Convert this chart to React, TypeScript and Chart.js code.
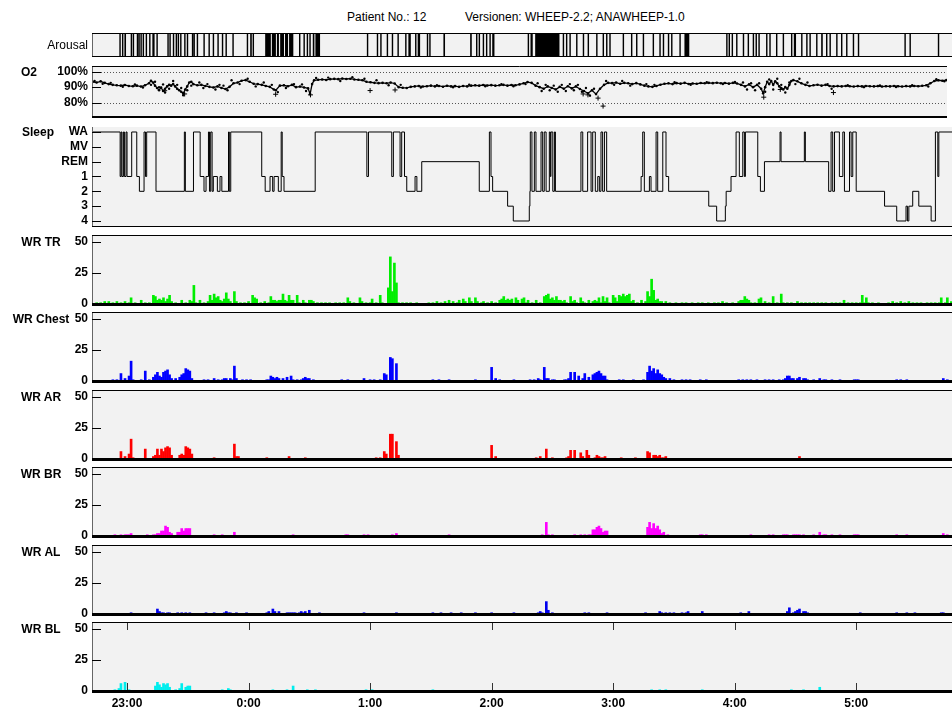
import React, { useEffect, useRef } from "react";
import { Chart, registerables } from "chart.js";

Chart.register(...registerables);

const FONT = "'Liberation Sans', Arial, Helvetica, sans-serif";
Chart.defaults.font.family = FONT;

// ---------- axis data (time = minutes after 22:00) ----------
const timeMin = 42.7;
const timeMax = 467.3;
const hourTicks = [60, 120, 180, 240, 300, 360, 420];
const hourLabels = ["23:00", "0:00", "1:00", "2:00", "3:00", "4:00", "5:00"];

const o2Ticks = [80, 90, 100];
const o2TickLabels = ["80%", "90%", "100%"];
const o2Dotted = [80, 100];
const sleepTicks = [0, 1, 2, 3, 4, 5, 6];
const sleepTickLabels = ["4", "3", "2", "1", "REM", "MV", "WA"];
const wrTicks = [0, 25, 50];
const wrTickLabels = ["0", "25", "50"];

// ---------- series ----------
const arousalEvents: [number, number][] = [
  [56.2, 56.9], [57.5, 58.2], [58.7, 59.5], [61.8, 62.5], [62.8, 63.5], [64.8, 65.5], [65.6, 66.3], [66.6, 67.3],
  [67.7, 68.4], [69.2, 69.9], [70.9, 71.6], [72.5, 73.6], [74.5, 75.2], [79.9, 80.6], [80.9, 81.6], [82.6, 83.3],
  [84.0, 84.7], [85.0, 85.7], [86.2, 86.9], [88.2, 88.9], [89.5, 90.2], [92.0, 92.7], [92.8, 93.5], [94.4, 95.1],
  [97.7, 98.4], [100.2, 100.9], [102.3, 103.0], [104.6, 105.3], [106.8, 107.5], [108.6, 109.3], [112.0, 112.7],
  [119.1, 119.8], [120.8, 121.6], [122.0, 122.7], [128.2, 131.0], [131.5, 133.5], [134.0, 135.0], [135.6, 137.5],
  [138.0, 139.5], [140.0, 142.1], [144.9, 145.6], [147.1, 147.8], [148.7, 149.4], [150.0, 150.7], [151.7, 152.5],
  [153.0, 155.3], [178.4, 179.1], [183.3, 184.0], [185.0, 185.7], [188.2, 188.9], [190.7, 191.4], [193.5, 194.2],
  [197.3, 198.0], [198.9, 200.1], [202.2, 202.9], [203.5, 204.7], [208.0, 208.7], [209.2, 209.9], [216.2, 217.0],
  [229.4, 230.2], [232.3, 233.0], [233.6, 234.3], [235.6, 236.3], [237.2, 237.9], [238.9, 239.6], [240.3, 241.4],
  [257.8, 258.5], [259.2, 260.3], [261.5, 273.5], [275.1, 275.8], [276.7, 277.4], [278.4, 279.1], [281.7, 282.4],
  [285.0, 285.7], [287.4, 288.1], [291.6, 292.3], [294.8, 295.5], [296.5, 297.2], [298.1, 298.8], [304.7, 305.4],
  [308.8, 309.5], [311.3, 312.0], [314.6, 315.3], [319.5, 320.2], [322.8, 323.5], [324.5, 325.2], [327.0, 327.7],
  [328.6, 329.3], [332.7, 333.4], [335.2, 337.6], [355.8, 356.5], [357.0, 357.7], [358.5, 359.2], [360.7, 361.4],
  [364.0, 364.7], [366.4, 367.1], [368.9, 369.6], [370.3, 371.0], [371.7, 372.4], [375.5, 376.2], [377.1, 377.8],
  [380.4, 381.1], [383.7, 384.4], [387.8, 388.5], [389.2, 390.3], [392.8, 393.5], [395.3, 396.0], [396.9, 397.6],
  [400.2, 400.9], [402.7, 403.5], [405.1, 405.8], [406.8, 407.5], [410.1, 410.8], [412.5, 413.2], [415.0, 415.7],
  [418.3, 419.0], [420.8, 421.5], [443.8, 444.5], [446.3, 447.0], [460.3, 461.0],
];

const o2Trace: [number, number][] = [
  [43, 93.5], [45, 93], [47, 93.8], [49, 92.8], [51, 92], [53, 91.5], [55, 91.2], [57, 91], [59, 91.4], [61, 90.8],
  [63, 90.6], [65, 91], [67, 90.4], [69, 91.2], [71, 92.5], [72, 94.2], [73, 93], [74, 91], [75, 89.5], [76, 88],
  [77, 89.8], [78, 87.5], [79, 89], [80, 90.5], [81, 91.5], [82, 91], [83, 92], [84, 90.5], [85, 89], [86, 88],
  [87, 87], [88, 86], [89, 88.5], [90, 90.5], [91, 93], [92, 93.5], [93, 92], [95, 91.2], [97, 91.5], [99, 90.8],
  [101, 90.2], [103, 89.8], [105, 90.5], [107, 89.5], [109, 88.8], [111, 90.2], [113, 92.5], [115, 93], [117, 94.2],
  [119, 94.6], [121, 93.5], [123, 92.2], [125, 92], [127, 91.5], [129, 90.8], [131, 90.2], [133, 88.5], [134, 88],
  [136, 91], [138, 91.2], [140, 90.6], [142, 91.5], [144, 90], [146, 90.4], [148, 89.8], [150, 89.2], [151, 85.5],
  [152, 92], [153, 94.5], [155, 94.8], [157, 95], [159, 94.7], [161, 95.2], [163, 95.4], [165, 95.2], [167, 95.6],
  [169, 95.3], [171, 95.5], [173, 95], [175, 94.8], [177, 94.5], [179, 93.5], [181, 93.2], [183, 92.8], [185, 92.6],
  [187, 92.8], [189, 92.5], [191, 93], [193, 92.4], [195, 90], [197, 89.6], [199, 89.5], [201, 90.2], [203, 90.5],
  [205, 90.8], [207, 90.4], [209, 90.6], [211, 91], [213, 90.5], [215, 90.8], [217, 90.3], [219, 90.9], [221, 90.5],
  [223, 90.7], [225, 90.2], [227, 90.8], [229, 90.5], [231, 91], [233, 91.2], [235, 91], [237, 91.4], [239, 91.1],
  [241, 91.3], [243, 91], [245, 91.2], [247, 91.5], [249, 91], [251, 91.4], [253, 91.2], [255, 91.8], [257, 92.5],
  [259, 93.3], [261, 92.8], [263, 91], [265, 90], [267, 89], [269, 90.5], [271, 89.5], [273, 88.5], [275, 90.2],
  [277, 89], [279, 90.6], [281, 89.2], [283, 90.5], [285, 88.8], [287, 87.5], [289, 86], [291, 88], [293, 85.5],
  [295, 89], [297, 91.5], [299, 92.8], [301, 92.6], [303, 93], [305, 92.2], [307, 92.8], [309, 92.5], [311, 92],
  [313, 92.6], [315, 91.8], [317, 91], [319, 90.5], [321, 90.2], [323, 90.8], [325, 91.6], [327, 92.2], [329, 92.5],
  [331, 92], [333, 92.6], [335, 92.3], [337, 92.8], [339, 92.1], [341, 92.4], [343, 92.2], [345, 92.7], [347, 92.5],
  [349, 92.8], [351, 92.6], [353, 92.9], [355, 92.5], [357, 92.7], [359, 92.3], [361, 92.8], [363, 92.4], [365, 91.5],
  [367, 90.5], [369, 91.8], [371, 90], [373, 91.5], [375, 89], [376, 86], [377, 90], [378, 93.5], [379, 92], [380, 94],
  [381, 91.5], [382, 93.8], [383, 92.5], [384, 90.5], [385, 89.5], [386, 88.5], [387, 90], [388, 89], [389, 91.5],
  [390, 94], [391, 94.6], [393, 93.8], [395, 92.5], [397, 91.5], [399, 90.8], [401, 91.2], [403, 91.6], [405, 91],
  [407, 91.5], [409, 90.8], [411, 90.5], [413, 90.7], [415, 90.5], [417, 90.8], [419, 90.6], [421, 90.4], [423, 90.7],
  [425, 90.5], [427, 90.8], [429, 90.6], [431, 90.5], [433, 90.7], [435, 90.4], [437, 90.6], [439, 90.5], [441, 90.8],
  [443, 90.6], [445, 90.4], [447, 90.7], [449, 90.5], [451, 90.8], [453, 90.6], [455, 90.9], [457, 91.2], [459, 92.5],
  [461, 94], [463, 94.5], [465, 94.2], [467, 94.6],
];

// scattered single readings around the main trace
const o2Dots: [number, number][] = [
  [44, 94], [48, 92.2], [52, 92.8], [58, 90.2], [64, 91.8], [68, 89.8], [72, 91.5], [74, 93.5], [76, 90], [78, 91.8],
  [79, 86.5], [81, 89], [83, 94], [85, 91.5], [87, 89.5], [88, 84.8], [90, 88], [92, 91], [96, 93], [98, 89.5],
  [100, 92], [104, 88.5], [106, 91.5], [108, 91], [110, 88], [112, 94.5], [116, 92], [120, 95.5], [124, 90.5],
  [128, 93], [132, 91.5], [135, 86.8], [139, 89.5], [143, 92], [147, 91.8], [149, 87.5], [154, 96], [160, 96.2],
  [166, 94], [172, 96.5], [178, 95.5], [184, 94.5], [190, 91.2], [196, 91.5], [206, 89.8], [214, 91.3], [222, 89.9],
  [230, 91.6], [238, 90.6], [246, 92], [252, 90.6], [258, 92], [264, 92.5], [266, 87.5], [268, 91.5], [270, 88],
  [272, 91], [274, 87], [276, 91.5], [278, 87.5], [280, 92], [282, 88], [284, 91.5], [286, 87], [288, 89.5],
  [290, 84.5], [292, 89], [298, 94], [302, 91.5], [306, 94], [310, 91], [318, 92], [322, 91.5], [332, 93.2],
  [340, 91.6], [348, 93.3], [356, 92], [362, 93.4], [366, 93], [368, 88.5], [370, 92.5], [372, 88], [374, 92.5],
  [377, 87], [379, 95], [381, 88.5], [383, 95.5], [385, 91.5], [387, 86.5], [389, 93], [392, 92], [394, 95.5],
  [398, 93], [408, 92], [410, 89], [418, 91.2], [426, 90], [434, 91.1], [442, 90.1], [450, 91.2], [458, 90.4],
  [462, 95.2], [466, 93.8],
];

const o2Outliers: [number, number][] = [
  [78.8, 87.7], [88.7, 85.6], [133.9, 85.4], [151.2, 85], [180.8, 87.8], [193.2, 88.2], [286.6, 85.6],
  [289, 85], [294, 82.9], [296.5, 77.7], [376.3, 83.5], [384.5, 88.5], [410.9, 86.5],
];

const sleepSteps: [number, number][] = [
  [42.7, 6], [56.6, 3], [57.1, 6], [57.5, 3], [58.2, 6], [58.7, 3], [59.5, 6], [60.0, 3], [62.3, 6], [64.8, 3],
  [66.1, 2], [68.4, 6], [69.1, 3], [69.7, 6], [74.3, 2], [88.3, 6], [88.8, 2], [92.8, 6], [96.1, 3], [98.0, 2],
  [99.0, 3], [100.2, 6], [100.7, 2], [101.3, 6], [102.0, 2], [102.6, 3], [104.6, 2], [105.9, 3], [106.8, 2],
  [110.1, 6], [110.5, 2], [111.2, 6], [126.5, 3], [128.2, 2], [130.6, 3], [131.9, 2], [132.6, 3], [134.7, 2],
  [136.1, 6], [136.6, 3], [137.5, 2], [152.9, 6], [178.4, 3], [179.2, 6], [190.7, 3], [191.5, 6], [194.8, 3],
  [195.6, 6], [197.0, 3], [198.1, 2], [202.2, 3], [203.1, 2], [205.5, 4], [233.9, 2], [238.9, 6], [239.7, 3],
  [240.5, 2], [247.9, 1], [250.7, 0], [258.6, 1], [258.9, 2], [259.1, 6], [259.9, 2], [261.1, 6], [261.9, 2],
  [264.4, 6], [265.2, 2], [266.0, 6], [266.9, 2], [268.5, 6], [269.0, 3], [269.3, 6], [270.2, 2], [271.0, 6],
  [271.5, 2], [284.1, 6], [285.0, 2], [287.4, 6], [289.1, 2], [289.9, 6], [291.2, 2], [292.4, 3], [293.2, 2],
  [294.0, 6], [294.8, 2], [295.7, 6], [296.8, 2], [313.8, 3], [314.6, 6], [315.4, 2], [317.9, 3], [318.7, 2],
  [321.2, 6], [322.0, 2], [324.5, 6], [326.1, 3], [327.4, 2], [347.2, 1], [351.1, 0], [355.4, 1], [355.8, 2],
  [358.2, 3], [360.7, 6], [362.3, 3], [364.0, 6], [364.8, 3], [365.3, 6], [371.4, 3], [372.7, 2], [374.7, 4],
  [382.4, 6], [382.9, 4], [394.4, 6], [394.9, 4], [406.4, 2], [407.6, 6], [408.4, 2], [409.3, 6], [411.7, 3],
  [413.4, 6], [414.2, 2], [416.7, 6], [417.5, 3], [418.3, 6], [420.0, 2], [434.0, 1], [440.0, 0], [444.6, 1],
  [445.3, 0], [446.0, 1], [447.9, 2], [450.9, 1], [457.0, 0], [459.1, 6], [460.3, 3], [460.8, 6], [467.3, 6],
];

const wrTR: [number, number][] = [
  [45, 1], [47, 1], [49, 2], [51, 2], [53, 1], [55, 2], [57, 1], [59, 2], [61, 1], [62, 5], [64, 1], [67, 3], [69, 1],
  [71, 1], [73, 7], [74, 6], [75, 3], [76, 4], [77, 3], [78, 5], [79, 2], [80, 4], [81, 7], [82, 2], [84, 1], [87, 3],
  [89, 1], [91, 3], [92, 2], [93, 15], [94, 1], [96, 3], [98, 1], [100, 2], [101, 7], [102, 3], [103, 8], [104, 5],
  [105, 6], [106, 3], [107, 2], [108, 4], [109, 9], [110, 4], [111, 2], [113, 10], [114, 2], [116, 1], [118, 1],
  [120, 2], [122, 7], [123, 5], [124, 4], [126, 1], [128, 2], [130, 1], [131, 6], [132, 3], [133, 3], [134, 2],
  [135, 3], [136, 3], [137, 8], [138, 3], [139, 2], [140, 7], [141, 3], [142, 3], [144, 7], [145, 1], [147, 3],
  [148, 1], [150, 3], [151, 3], [152, 2], [154, 1], [156, 1], [158, 1], [160, 1], [163, 1], [165, 1], [167, 1],
  [169, 5], [170, 2], [172, 1], [175, 5], [176, 2], [178, 1], [180, 1], [181, 4], [183, 1], [185, 7], [186, 1],
  [189, 13], [190, 38], [191, 10], [192, 33], [193, 17], [194, 1], [196, 1], [198, 1], [200, 1], [203, 1], [209, 1],
  [211, 1], [213, 2], [215, 1], [217, 2], [219, 3], [221, 2], [223, 1], [224, 3], [226, 4], [227, 2], [229, 5],
  [230, 2], [232, 5], [233, 2], [235, 1], [236, 2], [238, 1], [240, 2], [242, 1], [244, 3], [245, 4], [246, 6],
  [247, 3], [248, 4], [249, 3], [250, 4], [252, 5], [253, 3], [255, 4], [256, 5], [257, 1], [258, 3], [260, 1],
  [262, 3], [264, 1], [266, 6], [267, 7], [268, 8], [269, 4], [270, 5], [271, 3], [272, 6], [273, 3], [274, 3],
  [275, 2], [276, 3], [277, 1], [279, 6], [280, 2], [281, 3], [282, 1], [284, 5], [285, 2], [286, 1], [288, 3],
  [290, 2], [291, 3], [292, 2], [293, 5], [294, 1], [295, 6], [296, 2], [297, 5], [298, 1], [300, 7], [301, 5],
  [302, 2], [303, 7], [304, 6], [305, 8], [306, 6], [307, 7], [308, 8], [309, 2], [310, 3], [312, 1], [314, 3],
  [316, 2], [317, 10], [318, 6], [319, 20], [320, 11], [321, 3], [322, 4], [323, 2], [324, 2], [326, 2], [328, 1],
  [331, 1], [334, 1], [336, 1], [339, 1], [342, 1], [344, 1], [347, 1], [350, 1], [352, 1], [354, 2], [356, 1],
  [359, 1], [362, 2], [363, 3], [364, 3], [365, 6], [366, 4], [367, 3], [368, 1], [370, 1], [372, 4], [373, 5],
  [375, 2], [377, 1], [379, 6], [381, 1], [383, 8], [384, 1], [386, 1], [388, 1], [391, 2], [393, 1], [395, 1],
  [397, 1], [399, 1], [401, 1], [403, 1], [405, 1], [408, 1], [410, 1], [412, 1], [414, 3], [416, 1], [418, 1],
  [420, 1], [422, 1], [423, 7], [424, 1], [425, 5], [426, 1], [428, 1], [431, 1], [436, 1], [438, 2], [440, 1],
  [442, 2], [444, 1], [446, 2], [448, 1], [450, 1], [452, 1], [455, 1], [457, 1], [459, 1], [461, 1], [462, 5],
  [464, 1], [465, 5], [467, 2],
];

const wrChest: [number, number][] = [
  [53, 1], [55, 1], [57, 6], [59, 2], [61, 4], [62, 16], [63, 1], [67, 1], [69, 8], [71, 1], [73, 3], [74, 5],
  [75, 7], [76, 4], [77, 3], [78, 7], [79, 8], [80, 9], [81, 5], [82, 2], [84, 2], [86, 3], [87, 5], [88, 6],
  [89, 10], [90, 9], [91, 8], [92, 2], [98, 1], [100, 1], [103, 2], [105, 1], [107, 1], [108, 2], [109, 2],
  [111, 2], [112, 1], [113, 12], [114, 2], [117, 1], [119, 1], [121, 1], [129, 1], [130, 1], [131, 4], [132, 3],
  [133, 2], [134, 3], [135, 2], [137, 2], [139, 3], [141, 4], [142, 1], [144, 1], [146, 1], [147, 2], [148, 3],
  [149, 2], [150, 2], [152, 1], [166, 1], [169, 1], [177, 2], [180, 1], [182, 1], [185, 1], [187, 6], [188, 5],
  [190, 19], [191, 18], [193, 14], [211, 1], [214, 1], [219, 1], [232, 1], [240, 11], [242, 2], [244, 1],
  [251, 1], [259, 1], [261, 1], [263, 2], [264, 1], [266, 11], [267, 2], [268, 2], [270, 1], [271, 1], [276, 1],
  [277, 1], [278, 2], [279, 7], [281, 7], [283, 4], [285, 2], [286, 6], [288, 3], [290, 5], [291, 6], [292, 7],
  [293, 8], [294, 6], [295, 4], [296, 4], [297, 1], [303, 1], [305, 1], [310, 1], [315, 1], [317, 7], [318, 12],
  [319, 8], [320, 10], [321, 6], [322, 9], [323, 6], [324, 5], [325, 3], [326, 2], [328, 2], [330, 1], [334, 1],
  [336, 1], [338, 1], [343, 1], [346, 1], [362, 1], [364, 1], [366, 1], [368, 1], [371, 1], [375, 1], [377, 1],
  [379, 1], [382, 1], [384, 1], [385, 2], [386, 4], [387, 4], [388, 2], [389, 2], [391, 2], [392, 3], [394, 2],
  [395, 2], [396, 1], [399, 1], [402, 2], [404, 1], [405, 1], [408, 1], [412, 1], [419, 1], [420, 1], [421, 1],
  [440, 1], [442, 1], [445, 1], [463, 2], [465, 1],
];

const wrAR: [number, number][] = [
  [57, 6], [59, 2], [61, 4], [62, 16], [63, 1], [69, 8], [73, 2], [74, 3], [75, 8], [76, 3], [77, 8], [78, 6],
  [79, 9], [80, 10], [81, 9], [82, 3], [86, 3], [87, 4], [88, 3], [89, 10], [90, 9], [91, 8], [92, 4], [103, 1],
  [113, 12], [114, 2], [115, 2], [129, 1], [140, 2], [148, 1], [183, 1], [185, 1], [187, 6], [188, 4], [190, 20],
  [191, 20], [193, 14], [194, 3], [240, 11], [242, 2], [262, 1], [264, 2], [267, 8], [270, 1], [277, 1], [278, 2],
  [279, 7], [281, 7], [284, 5], [285, 2], [287, 7], [288, 3], [291, 1], [292, 3], [293, 2], [294, 1], [295, 1],
  [296, 2], [304, 1], [311, 1], [317, 6], [318, 5], [320, 3], [321, 3], [322, 2], [323, 3], [324, 1], [325, 1],
  [326, 2], [392, 2],
];

const wrBR: [number, number][] = [
  [54, 1], [57, 1], [59, 1], [60, 1], [61, 1], [62, 2], [70, 1], [73, 1], [74, 1], [75, 2], [76, 2], [77, 4],
  [78, 4], [79, 8], [80, 7], [81, 3], [82, 2], [85, 3], [86, 3], [87, 6], [88, 4], [89, 6], [90, 6], [91, 6],
  [103, 1], [107, 1], [113, 3], [142, 1], [168, 1], [169, 1], [177, 1], [179, 1], [191, 1], [193, 2], [219, 1],
  [265, 1], [267, 11], [268, 1], [270, 1], [281, 1], [284, 1], [286, 1], [288, 1], [289, 1], [290, 5], [291, 5],
  [292, 7], [293, 8], [294, 6], [295, 3], [296, 4], [297, 4], [317, 7], [318, 11], [319, 6], [320, 10], [321, 6],
  [322, 8], [323, 5], [324, 2], [325, 3], [327, 1], [343, 1], [344, 1], [346, 1], [368, 1], [377, 1], [379, 1],
  [384, 1], [385, 1], [386, 1], [389, 1], [390, 1], [391, 1], [392, 1], [394, 1], [399, 1], [402, 3], [404, 1],
  [405, 1], [408, 1], [412, 1], [419, 1], [420, 1], [421, 1], [440, 1], [445, 1], [463, 2], [465, 1],
];

const wrAL: [number, number][] = [
  [62, 1], [75, 4], [76, 2], [77, 1], [78, 1], [80, 1], [81, 1], [85, 1], [87, 1], [89, 1], [91, 1], [99, 1],
  [103, 1], [108, 1], [109, 2], [110, 1], [111, 1], [114, 1], [119, 1], [129, 1], [130, 2], [132, 4], [133, 2],
  [135, 2], [139, 1], [140, 1], [141, 1], [142, 1], [143, 1], [145, 1], [146, 2], [147, 1], [148, 2], [150, 3],
  [155, 1], [177, 1], [193, 1], [211, 1], [215, 1], [220, 1], [225, 1], [232, 1], [240, 1], [251, 1], [263, 1],
  [264, 2], [265, 1], [267, 10], [268, 3], [270, 1], [286, 1], [288, 1], [297, 1], [316, 1], [323, 2], [324, 1],
  [326, 1], [328, 1], [330, 1], [334, 1], [336, 1], [337, 2], [344, 2], [363, 1], [367, 2], [386, 2], [387, 5],
  [389, 1], [390, 2], [391, 3], [392, 4], [394, 2], [395, 2], [396, 1], [422, 1], [440, 1], [445, 1], [449, 1],
  [462, 1], [463, 1],
];

const wrBL: [number, number][] = [
  [54, 1], [56, 2], [57, 6], [59, 7], [61, 1], [74, 4], [75, 7], [76, 5], [77, 3], [78, 6], [79, 5], [80, 6],
  [81, 3], [84, 1], [86, 2], [87, 6], [89, 3], [90, 4], [91, 4], [107, 1], [110, 2], [111, 1], [132, 1], [139, 1],
  [142, 4], [149, 1], [153, 1], [178, 1], [181, 1], [211, 1], [319, 1], [323, 1], [326, 1], [344, 1], [388, 1],
  [394, 1], [402, 3],
];

// ---------- layout / styling ----------
const PAD = 4;
const X_AXIS_H = 22;

const panelDecor = {
  id: "panelDecor",
  beforeDatasetsDraw(chart: any, _args: any, opts: any) {
    const { ctx, chartArea: a } = chart;
    ctx.save();
    ctx.fillStyle = "#f2f2f2";
    ctx.fillRect(a.left, a.top, a.right - a.left, a.bottom - a.top);
    const ys = chart.scales.y;
    ctx.strokeStyle = "#555";
    ctx.lineWidth = 1;
    ctx.setLineDash([1, 2]);
    for (const v of opts.dotted || []) {
      const py = Math.round(ys.getPixelForValue(v)) + 0.5;
      ctx.beginPath();
      ctx.moveTo(a.left, py);
      ctx.lineTo(a.right, py);
      ctx.stroke();
    }
    ctx.restore();
  },
  afterDatasetsDraw(chart: any, _args: any, opts: any) {
    const { ctx, chartArea: a } = chart;
    const ys = chart.scales.y;
    const xs = chart.scales.x;
    ctx.save();
    ctx.lineWidth = 1;
    ctx.strokeStyle = "#666";
    ctx.beginPath();
    ctx.moveTo(a.left + 0.5, a.top);
    ctx.lineTo(a.left + 0.5, a.bottom);
    ctx.stroke();
    ctx.strokeStyle = "#000";
    if (opts.tickMarks) {
      for (const t of ys.ticks) {
        const py = Math.round(ys.getPixelForValue(t.value)) + 0.5;
        ctx.beginPath();
        ctx.moveTo(a.left, py);
        ctx.lineTo(a.left + 9, py);
        ctx.stroke();
      }
    }
    if (opts.xMarks) {
      ctx.strokeStyle = "#333";
      for (const t of xs.ticks) {
        const px = Math.round(xs.getPixelForValue(t.value)) + 0.5;
        ctx.beginPath();
        ctx.moveTo(px, a.top);
        ctx.lineTo(px, a.top + 8);
        ctx.moveTo(px, a.bottom - 8);
        ctx.lineTo(px, a.bottom);
        ctx.stroke();
      }
      ctx.strokeStyle = "#000";
    }
    if (opts.topBorder) {
      ctx.beginPath();
      ctx.moveTo(a.left, a.top + 0.5);
      ctx.lineTo(a.right, a.top + 0.5);
      ctx.stroke();
    }
    if (opts.bottomWidth) {
      const w = opts.bottomWidth;
      ctx.lineWidth = w;
      const y = w === 1 ? a.bottom - 0.5 : w === 2 ? a.bottom : a.bottom + 0.5;
      ctx.beginPath();
      ctx.moveTo(a.left, y);
      ctx.lineTo(a.right, y);
      ctx.stroke();
    }
    ctx.restore();
  },
};

const toXY = (arr: [number, number][]) => arr.map(([x, y]) => ({ x, y }));

const arousalPoints = (() => {
  const pts = [{ x: timeMin, y: 0 }];
  arousalEvents.forEach(([s, e]) => {
    pts.push({ x: s, y: 1 }, { x: e, y: 0 });
  });
  pts.push({ x: timeMax, y: 0 });
  return pts;
})();

const barSet = (arr: [number, number][], color: string) => ({
  type: "bar",
  data: toXY(arr),
  backgroundColor: color,
  borderWidth: 0,
  barThickness: 2,
});

const WR_TOP0 = 235;
const WR_STEP = 77.4;
const WR_H = 69;
const wrMax = (50 * WR_H) / 62;

type Panel = {
  key: string;
  top: number;
  bottom: number;
  yMin: number;
  yMax: number;
  ticks: number[];
  tickLabels: string[];
  tickMarks: boolean;
  bottomWidth: number;
  topBorder: boolean;
  dotted: number[];
  showX: boolean;
  type: string;
  datasets: any[];
};

const wrPanel = (key: string, i: number, arr: [number, number][], color: string, showX = false): Panel => {
  const top = Math.round(WR_TOP0 + WR_STEP * i);
  return {
    key,
    top,
    bottom: top + WR_H,
    yMin: 0,
    yMax: wrMax,
    ticks: wrTicks,
    tickLabels: wrTickLabels,
    tickMarks: true,
    bottomWidth: 3,
    topBorder: true,
    dotted: [],
    showX,
    type: "bar",
    datasets: [barSet(arr, color)],
  };
};

const panels: Panel[] = [
  {
    key: "arousal", top: 33, bottom: 57, yMin: 0, yMax: 1, ticks: [], tickLabels: [], tickMarks: false,
    bottomWidth: 1, topBorder: true, dotted: [], showX: false, type: "line",
    datasets: [{
      type: "line", data: arousalPoints, stepped: true, fill: "origin", backgroundColor: "#000",
      borderColor: "rgba(0,0,0,0)", borderWidth: 0, pointRadius: 0,
    }],
  },
  {
    key: "o2", top: 65, bottom: 118, yMin: 70.625, yMax: 103.75, ticks: o2Ticks, tickLabels: o2TickLabels,
    tickMarks: true, bottomWidth: 2, topBorder: true, dotted: o2Dotted, showX: false, type: "line",
    datasets: [
      {
        type: "line", data: toXY(o2Trace), borderColor: "#000", borderWidth: 1.3, pointRadius: 1.3,
        pointBackgroundColor: "#000", pointBorderWidth: 0, fill: false, tension: 0,
      },
      {
        type: "scatter", data: toXY(o2Dots), pointStyle: "circle", pointRadius: 1.2,
        backgroundColor: "#000", borderWidth: 0, showLine: false,
      },
      {
        type: "scatter", data: toXY(o2Outliers), pointStyle: "cross", pointRadius: 2.5,
        borderColor: "#000", borderWidth: 1, showLine: false,
      },
    ],
  },
  {
    key: "sleep", top: 127, bottom: 227, yMin: -0.405, yMax: 6.337, ticks: sleepTicks, tickLabels: sleepTickLabels,
    tickMarks: true, bottomWidth: 1, topBorder: false, dotted: [], showX: false, type: "line",
    datasets: [{
      type: "line", data: toXY(sleepSteps), stepped: true, borderColor: "#000", borderWidth: 1,
      pointRadius: 0, fill: false,
    }],
  },
  wrPanel("tr", 0, wrTR, "#00ee00"),
  wrPanel("chest", 1, wrChest, "#0000ff"),
  wrPanel("ar", 2, wrAR, "#ff0000"),
  wrPanel("br", 3, wrBR, "#ff00ff"),
  wrPanel("al", 4, wrAL, "#0000ee"),
  wrPanel("bl", 5, wrBL, "#00eeee", true),
];

const tickFont = { family: FONT, size: 12, weight: "bold" as const };

function buildConfig(p: Panel): any {
  return {
    type: p.type,
    data: { datasets: p.datasets },
    options: {
      responsive: false,
      animation: false,
      events: [],
      layout: { padding: { top: PAD, bottom: p.showX ? 0 : PAD, left: 0, right: 0 } },
      plugins: {
        legend: { display: false },
        tooltip: { enabled: false },
        panelDecor: {
          bottomWidth: p.bottomWidth,
          topBorder: p.topBorder,
          dotted: p.dotted,
          tickMarks: p.tickMarks,
          xMarks: p.showX,
        },
      },
      scales: {
        x: {
          type: "linear",
          min: timeMin,
          max: timeMax,
          offset: false,
          display: p.showX,
          afterBuildTicks: (s: any) => {
            s.ticks = hourTicks.map((v) => ({ value: v }));
          },
          afterFit: (s: any) => {
            s.height = p.showX ? X_AXIS_H : 0;
            s.paddingLeft = 0;
            s.paddingRight = 0;
          },
          ticks: {
            autoSkip: false,
            maxRotation: 0,
            padding: 5,
            color: "#000",
            font: tickFont,
            callback: (_v: any, i: number) => hourLabels[i],
          },
          grid: { display: false, drawTicks: false },
          border: { display: false },
        },
        y: {
          type: "linear",
          position: "left",
          min: p.yMin,
          max: p.yMax,
          afterBuildTicks: (s: any) => {
            s.ticks = p.ticks.map((v) => ({ value: v }));
          },
          afterFit: (s: any) => {
            s.width = 92;
            s.paddingTop = 0;
            s.paddingBottom = 0;
          },
          ticks: {
            display: p.ticks.length > 0,
            autoSkip: false,
            padding: 4,
            color: "#000",
            font: tickFont,
            callback: (_v: any, i: number) => p.tickLabels[i],
          },
          grid: { display: false, drawTicks: false },
          border: { display: false },
        },
      },
    },
    plugins: [panelDecor],
  };
}

const labelStyle = (top: number): React.CSSProperties => ({
  position: "absolute",
  top: top - 7,
  height: 14,
  lineHeight: "14px",
  fontFamily: FONT,
  fontSize: 12,
  fontWeight: "bold",
  color: "#000",
  whiteSpace: "nowrap",
});

const wrNames = ["WR TR", "WR Chest", "WR AR", "WR BR", "WR AL", "WR BL"];

export default function App() {
  const refs = useRef<(HTMLCanvasElement | null)[]>([]);

  useEffect(() => {
    const charts = panels.map((p, i) => new Chart(refs.current[i] as HTMLCanvasElement, buildConfig(p)));
    return () => charts.forEach((c) => c.destroy());
  }, []);

  return (
    <div style={{ position: "absolute", left: 0, top: 0, width: 952, height: 713, background: "#fff", overflow: "hidden" }}>
      <div style={{ ...labelStyle(17), left: 347, fontWeight: "normal" }}>Patient No.: 12</div>
      <div style={{ ...labelStyle(17), left: 465, fontWeight: "normal" }}>Versionen: WHEEP-2.2; ANAWHEEP-1.0</div>
      {panels.map((p, i) => {
        const h = p.showX ? 713 - (p.top - PAD) : p.bottom - p.top + 2 * PAD;
        return (
          <canvas
            key={p.key}
            ref={(el) => {
              refs.current[i] = el;
            }}
            width={952}
            height={h}
            style={{ position: "absolute", left: 0, top: p.top - PAD, width: 952, height: h, display: "block" }}
          />
        );
      })}
      <div style={{ ...labelStyle(45), left: 0, width: 88, textAlign: "right", fontWeight: "normal" }}>Arousal</div>
      <div style={{ ...labelStyle(72), left: 21 }}>O2</div>
      <div style={{ ...labelStyle(132), left: 22 }}>Sleep</div>
      {wrNames.map((n, i) => (
        <div key={n} style={{ ...labelStyle(Math.round(WR_TOP0 + WR_STEP * i) + 7), left: 0, width: 82, textAlign: "center" }}>
          {n}
        </div>
      ))}
    </div>
  );
}
